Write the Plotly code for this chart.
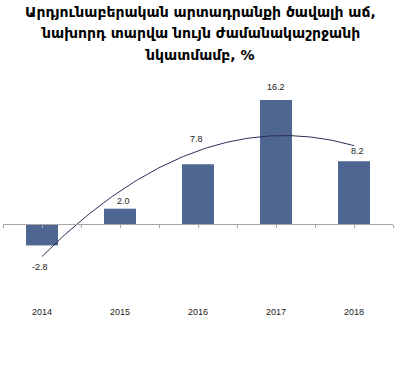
import numpy as np
import plotly.graph_objects as go

years = ["2014", "2015", "2016", "2017", "2018"]
values = [-2.8, 2.0, 7.8, 16.2, 8.2]
label_text = ["-2.8", "2.0", "7.8", "16.2", "8.2"]
title_lines = [
    "Արդյունաբերական արտադրանքի ծավալի աճ,",
    "նախորդ տարվա նույն ժամանակաշրջանի",
    "նկատմամբ, %",
]

idx = list(range(len(years)))

# quadratic trend line (as in the original chart)
coef = np.polyfit(idx, values, 2)
tx = np.linspace(0, len(years) - 1, 120)
ty = np.polyval(coef, tx)

W, H = 401, 368
ml, mr, mt, mb = 3, 8, 80, 63
plot_h = H - mt - mb
zero_px = 224
ppu = 7.65
ymax = (zero_px - mt) / ppu
ymin = -(H - mb - zero_px) / ppu

fig = go.Figure()
fig.add_trace(go.Bar(
    x=idx, y=values, width=0.41,
    marker=dict(color="#4E6691", line=dict(width=0)),
    hoverinfo="skip", showlegend=False,
))
fig.add_trace(go.Scatter(
    x=tx, y=ty, mode="lines",
    line=dict(color="#2F2A5A", width=1),
    hoverinfo="skip", showlegend=False,
))
# invisible trace to activate zero-line axis
fig.add_trace(go.Scatter(x=[-0.5, 4.5], y=[0, 0], xaxis="x2", mode="lines",
                         line=dict(width=0), hoverinfo="skip", showlegend=False))

# data labels: (x offset in category units, y shift in px)
offsets = [(-0.03, -22), (0.04, 8), (-0.02, 25), (0.0, 13), (0.04, 10)]
for i, (v, t) in enumerate(zip(values, label_text)):
    dx, sy = offsets[i]
    fig.add_annotation(x=i + dx, y=v, text=t, showarrow=False,
                       yshift=sy, font=dict(family="Liberation Sans", size=9, color="#222222"))

title_y = [12, 33, 55]
for line, yp in zip(title_lines, title_y):
    fig.add_annotation(xref="paper", yref="paper",
                       x=(200 - ml) / (W - ml - mr), y=1 + (mt - yp) / plot_h,
                       text="<b>" + line + "</b>", showarrow=False,
                       xanchor="center", yanchor="middle",
                       font=dict(family="DejaVu Sans", size=14, color="#000000"))

zero_pos = (0 - ymin) / (ymax - ymin)

fig.update_layout(
    width=W, height=H,
    margin=dict(l=ml, r=mr, t=mt, b=mb),
    paper_bgcolor="white", plot_bgcolor="white",
    xaxis=dict(range=[-0.5, 4.5], tickvals=idx, ticktext=years,
               showgrid=False, zeroline=False, showline=False, ticks="",
               tickfont=dict(family="Liberation Sans", size=9, color="#222222")),
    xaxis2=dict(range=[-0.5, 4.5], overlaying="x", anchor="free", position=zero_pos,
                side="bottom", showline=True, linecolor="#A6A6A6", linewidth=1,
                ticks="outside", ticklen=3, tickcolor="#A6A6A6",
                tickvals=[i * 0.5 - 0.5 for i in range(11)],
                showticklabels=False, showgrid=False, zeroline=False),
    yaxis=dict(range=[ymin, ymax], showgrid=False, zeroline=False,
               showline=False, showticklabels=False, ticks=""),
)

fig.write_html("out.html", config={"displayModeBar": False},
               post_script="document.body.style.margin='0';document.body.style.overflow='hidden';")
